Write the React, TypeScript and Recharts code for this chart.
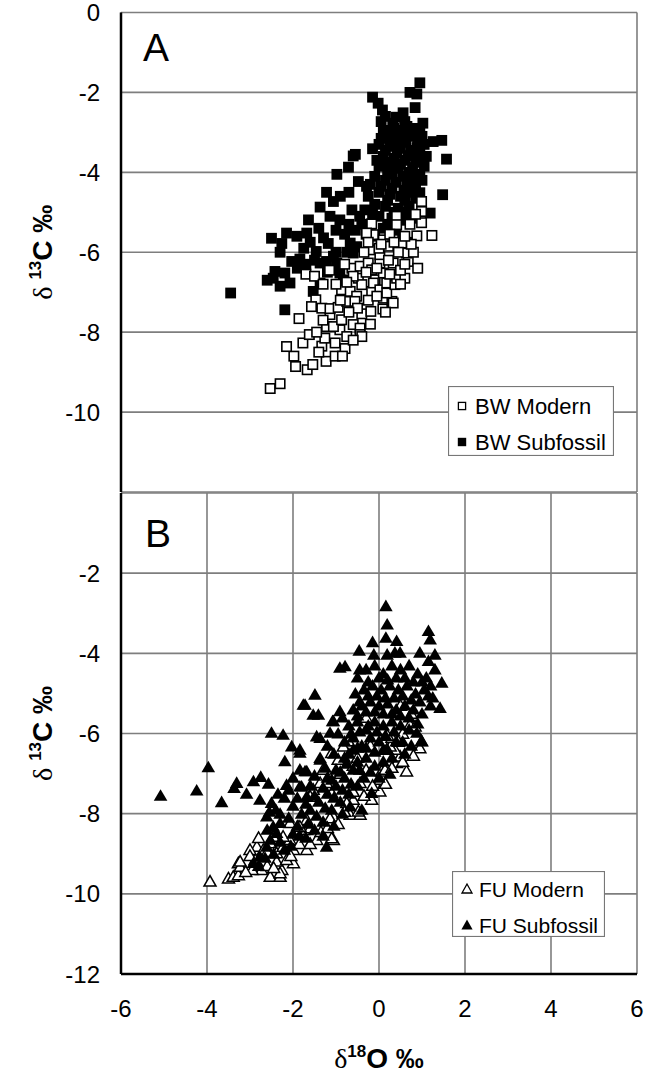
import React from 'react';
import { ScatterChart, Scatter, XAxis, YAxis, CartesianGrid, Legend, Label } from 'recharts';

// ---------- data (δ18O, δ13C) ----------
const bwModern: [number, number][] = [
  [-2.53, -9.41], [-2.3, -9.29], [-1.67, -8.94], [-1.54, -8.81], [-1.94, -8.86], [-1.98, -8.6], [-2.15, -8.36], [-1.86, -7.66], [-1.23, -8.73], [-1.02, -8.6],
  [-1.77, -8.27], [-1.62, -8.06], [-1.33, -8.35], [-1.26, -8.15], [-1.02, -8.27], [-0.79, -8.41], [-0.91, -7.94], [-1.22, -7.86], [-1.06, -7.86], [-0.75, -8.11],
  [-0.6, -7.81], [-0.44, -7.9], [-0.44, -8.06], [-0.4, -8.11], [-1.14, -7.56], [-0.87, -7.69], [-0.4, -7.54], [-0.19, -7.48], [0.09, -7.42],
  [-1.47, -7.19], [-1.57, -7.36], [-1.33, -7.4], [-1.14, -7.41], [-0.95, -7.38], [-1.7, -6.55], [-1.5, -6.6],
  [-0.87, -6.94], [-0.67, -6.98], [-0.52, -7.1], [-0.75, -7.23], [-0.56, -7.23],
  [-0.63, -6.4], [-0.44, -6.35], [-0.25, -6.27], [-0.17, -6.44], [-0.09, -6.69], [0.1, -6.52], [0.02, -6.27], [-0.21, -5.94], [0.02, -6.06],
  [-0.48, -6.65], [-0.4, -6.81], [-0.17, -6.98], [-0.13, -6.77], [0.02, -6.94], [0.1, -7.15], [0.18, -6.77], [0.3, -7.23], [0.18, -7.02], [0.37, -6.81],
  [0.41, -6.65], [0.6, -6.65], [0.33, -6.27], [0.68, -6.23], [0.88, -5.59], [1.23, -5.58], [0.53, -5.77], [0.64, -6.02], [-0.13, -5.56], [0.1, -5.69],
  [0.99, -4.73], [0.99, -4.98], [0.99, -5.26], [-0.17, -5.29], [-0.29, -5.52], [0.41, -5.1], [0.41, -5.31],
  [-0.25, -5.75], [0.0, -5.9], [0.22, -5.85], [0.25, -5.55], [0.33, -7.27],
  [-0.8, -6.3], [-0.6, -6.6], [-1.0, -6.8], [-1.15, -6.45], [-0.35, -6.0], [0.5, -6.45], [0.8, -6.0], [0.75, -5.8],
  [-0.3, -6.5], [-0.05, -6.4], [0.25, -6.55], [0.5, -6.8], [0.22, -6.2], [0.45, -6.0], [0.6, -5.6], [0.35, -5.75], [-0.5, -7.4], [-0.25, -7.2],
  [-0.05, -7.1], [-0.7, -7.5], [-0.9, -7.2], [-1.3, -7.7], [-1.45, -8.0], [-0.6, -8.2], [-0.85, -8.6], [-1.4, -8.5], [-0.2, -7.8], [0.15, -7.5],
  [-0.75, -6.75], [-1.3, -6.8], [0.05, -5.8], [0.6, -6.3], [0.9, -6.4], [0.72, -5.3], [0.85, -5.05],
];

const bwSubfossil: [number, number][] = [
  [0.95, -1.76], [0.72, -2.0], [0.88, -2.04], [-0.15, -2.12], [-0.02, -2.27], [0.08, -2.44], [0.84, -2.38], [0.56, -2.51],
  [0.05, -2.73], [0.32, -2.77], [0.6, -2.73], [1.02, -2.77],
  [0.1, -2.95], [0.35, -2.9], [0.55, -2.95], [0.8, -2.9], [0.95, -3.0], [0.2, -3.1], [0.45, -3.15], [0.7, -3.1], [0.9, -3.2], [1.05, -3.3],
  [1.26, -3.23], [1.46, -3.2], [1.57, -3.67], [-0.15, -3.41], [-0.6, -3.59], [-0.55, -3.55],
  [0.0, -3.3], [0.25, -3.35], [0.5, -3.4], [0.75, -3.45], [0.95, -3.5], [0.1, -3.6], [0.35, -3.65], [0.6, -3.7], [0.85, -3.75], [1.1, -3.6],
  [0.0, -3.85], [0.2, -3.95], [0.45, -3.9], [0.7, -4.0], [0.95, -4.05], [-0.1, -4.1], [0.15, -4.2], [0.4, -4.25], [0.65, -4.3], [0.85, -4.3],
  [-0.71, -3.87], [-0.98, -4.05], [-0.48, -4.23], [-0.29, -4.35], [-1.22, -4.5], [-1.06, -4.73], [-1.37, -4.87], [-1.64, -5.19],
  [1.48, -4.56], [-0.33, -4.94], [-0.63, -4.94], [-1.14, -5.1], [-0.91, -5.19],
  [0.0, -4.5], [0.25, -4.55], [0.5, -4.6], [0.75, -4.5], [0.95, -4.51], [-0.1, -4.8], [0.15, -4.85], [0.45, -4.9], [0.7, -4.85], [1.19, -5.02],
  [0.0, -5.1], [0.3, -5.15], [0.55, -5.2], [0.8, -5.15], [-0.2, -5.3], [0.1, -5.4], [0.4, -5.45],
  [-2.5, -5.65], [-2.26, -5.78], [-2.15, -5.52], [-1.91, -5.6], [-1.68, -5.52], [-1.29, -5.64], [-1.18, -5.78],
  [-1.46, -5.98], [-1.37, -6.27], [-1.22, -6.23], [-1.06, -6.1], [-0.98, -6.27], [-0.91, -6.52], [-0.83, -6.69],
  [-0.67, -5.77], [-0.52, -5.86], [-0.6, -6.02],
  [-2.03, -6.23], [-1.84, -6.17], [-2.42, -6.48], [-2.19, -6.52], [-2.07, -6.77], [-2.46, -6.65], [-3.45, -7.02], [-2.19, -7.44], [-1.53, -6.98], [-1.37, -6.77],
  [0.55, -5.6], [0.7, -5.75], [0.5, -5.9], [-1.75, -5.9], [-1.6, -5.75],
  [-0.4, -5.3], [-0.3, -5.55], [-0.1, -5.6], [-0.55, -5.45], [-0.8, -5.55], [-1.0, -5.45],
  [0.15, -2.6], [0.4, -2.62], [0.65, -2.85], [0.28, -3.0], [0.58, -3.05], [0.82, -3.05], [0.05, -3.15], [0.38, -3.28], [0.62, -3.25], [0.88, -3.38],
  [1.0, -3.1], [0.15, -3.45], [0.42, -3.52], [0.68, -3.58], [0.9, -3.62], [0.22, -3.75], [0.5, -3.8], [0.78, -3.88], [1.05, -3.85], [-0.05, -3.7],
  [0.3, -4.05], [0.55, -4.1], [0.8, -4.15], [1.0, -4.2], [-0.2, -4.3], [0.05, -4.35], [0.3, -4.4], [0.58, -4.45], [0.85, -4.65], [0.2, -4.7],
  [0.6, -4.7], [-0.25, -4.6], [0.35, -5.0], [0.62, -5.0], [-0.15, -5.05], [0.2, -5.3], [-0.45, -5.1], [-0.7, -5.3], [-1.4, -5.4], [-1.5, -6.2],
  [-1.2, -6.5], [-1.0, -6.0], [-0.75, -6.0], [-2.3, -6.0], [-2.6, -6.7], [-2.3, -6.85], [-1.9, -6.4], [-1.7, -6.3], [-0.9, -4.6], [-0.7, -4.5],
];

const fuModern: [number, number][] = [
  [-3.93, -9.69], [-3.5, -9.61], [-3.39, -9.57], [-3.27, -9.53], [-3.27, -9.23], [-3.23, -9.32], [-2.73, -9.4], [-2.53, -9.57], [-2.3, -9.57], [-2.26, -9.4], [-1.99, -9.23],
  [-2.84, -8.82], [-2.69, -8.9], [-2.53, -8.73], [-2.38, -8.98], [-2.23, -8.82], [-2.07, -8.65], [-1.99, -8.9], [-1.68, -8.9], [-1.45, -8.65], [-1.76, -8.4],
  [-1.88, -8.32], [-2.07, -8.23], [-1.68, -8.15], [-2.23, -8.57],
  [-1.06, -8.65], [-0.67, -8.02], [-0.44, -8.02], [-0.17, -7.65],
  [0.64, -6.94], [0.02, -7.44], [0.95, -6.36], [0.99, -6.19], [0.41, -6.73], [0.49, -6.57], [0.37, -6.4], [-1.1, -6.48], [-1.3, -6.9], [-0.83, -6.32], [-0.71, -6.19],
  [-0.44, -7.23], [-0.6, -7.65], [-0.75, -7.73], [-1.06, -8.07], [-1.1, -8.61], [-1.68, -8.4], [-0.48, -7.94], [0.02, -7.15], [0.06, -6.94], [0.14, -6.9],
  [0.18, -6.4], [0.26, -6.32], [0.72, -5.78], [0.84, -5.82], [-1.37, -7.23], [-1.53, -7.4], [-1.6, -7.57],
  [-1.22, -7.23], [-1.1, -7.48], [-1.14, -8.11], [-1.6, -8.36], [-1.84, -8.32], [-2.88, -9.15], [-3.23, -9.19], [-2.3, -9.48], [-2.38, -9.19], [-2.15, -9.15], [-2.46, -8.57],
  [-0.3, -5.6], [0.1, -5.9], [0.3, -6.1], [-0.2, -6.3], [0.55, -6.0], [0.75, -5.5], [0.5, -5.3],
  [-0.9, -7.0], [-0.6, -6.8], [-0.3, -6.9], [-2.8, -8.6], [-3.0, -8.9],
  [-2.6, -9.3], [-2.45, -9.35], [-2.05, -9.05], [-1.85, -8.75], [-1.6, -8.75], [-1.35, -8.45], [-1.2, -8.35], [-0.95, -8.25], [-0.8, -7.95], [-0.6, -7.45],
  [-0.35, -7.55], [-0.15, -7.3], [0.15, -7.25], [0.3, -6.85], [0.55, -6.7], [0.8, -6.55], [0.45, -6.2], [0.2, -6.05], [-0.5, -6.6], [-0.95, -6.65],
  [-2.95, -9.4], [-3.1, -9.45], [-3.0, -9.05], [-2.6, -8.95],
];

const fuSubfossil: [number, number][] = [
  [-5.08, -7.55], [-4.24, -7.42], [-3.97, -6.84], [-3.66, -7.71], [-3.31, -7.23], [-3.37, -7.36], [-3.08, -7.5], [-2.92, -7.19], [-2.75, -7.08], [-2.57, -7.25],
  [-2.77, -7.65], [-2.5, -5.98], [-2.23, -6.03], [-2.03, -6.32], [-1.84, -6.4], [-2.19, -6.69], [-2.15, -7.28], [-1.84, -7.32], [-2.5, -7.73], [-1.84, -6.9],
  [-1.68, -6.94], [-1.76, -5.28], [-1.53, -5.53], [-1.41, -5.53], [-1.08, -5.69], [-1.45, -6.07], [-1.37, -6.11], [-1.14, -5.98], [-1.37, -6.65],
  [0.16, -2.82], [0.19, -3.28], [0.16, -3.61], [0.41, -3.69], [1.15, -3.44], [1.19, -3.65], [-0.15, -3.72], [-0.46, -3.93], [-0.12, -4.03], [0.19, -4.03],
  [0.37, -3.98], [0.49, -3.98], [0.95, -3.98], [1.3, -4.03], [1.15, -4.19], [-0.91, -4.36], [-0.79, -4.32], [1.46, -4.73], [1.42, -5.36], [-1.49, -5.03],
  [-1.72, -5.28], [-0.91, -5.44], [-1.06, -5.69], [0.88, -5.98], [0.99, -6.19], [-1.72, -6.94], [-1.84, -6.48], [-1.37, -6.61], [-1.8, -7.32], [-1.68, -7.57],
  [-0.4, -7.9], [-0.17, -7.48], [-0.67, -7.82],
  [-2.61, -8.07], [-2.46, -8.32], [-2.38, -8.48], [-2.3, -8.23], [-2.53, -8.65], [-2.61, -8.82], [-2.77, -9.07], [-2.92, -9.23], [-1.22, -8.82],
  [-2.2, -7.6], [-2.0, -7.8], [-1.8, -8.0], [-1.6, -7.9], [-1.4, -7.7], [-1.2, -7.5], [-1.0, -7.3], [-0.8, -7.1], [-0.6, -6.9], [-2.1, -8.1],
  [-1.9, -8.3], [-1.7, -8.6], [-1.5, -8.4], [-1.3, -8.2], [-1.1, -7.9], [-0.9, -7.7], [-0.7, -7.5], [-0.5, -7.3], [-2.4, -7.9], [-2.2, -8.9],
  [-2.0, -8.5], [-2.6, -8.4], [-1.0, -6.9], [-0.8, -6.6], [-0.6, -6.4], [-1.2, -7.1], [-1.6, -7.3], [-2.0, -7.1],
  [-0.5, -4.6], [-0.3, -4.4], [-0.1, -4.3], [0.1, -4.5], [0.3, -4.3], [0.5, -4.4], [0.7, -4.3], [0.9, -4.5], [1.1, -4.6], [1.3, -4.4],
  [-0.55, -5.0], [-0.35, -4.9], [-0.15, -4.8], [0.05, -4.9], [0.25, -4.8], [0.45, -4.9], [0.65, -4.8], [0.85, -5.0], [1.05, -4.9], [1.25, -5.1],
  [-0.6, -5.4], [-0.4, -5.3], [-0.2, -5.2], [0.0, -5.3], [0.2, -5.25], [0.4, -5.4], [0.6, -5.3], [0.8, -5.4], [1.0, -5.5], [1.2, -5.3],
  [-0.7, -5.8], [-0.5, -5.7], [-0.3, -5.9], [-0.1, -5.7], [0.1, -5.8], [0.3, -5.7], [0.5, -5.8], [0.7, -5.9],
  [-0.8, -6.2], [-0.6, -6.1], [-0.4, -6.3], [-0.2, -6.1], [0.0, -6.2], [0.2, -6.4], [0.4, -6.2], [0.6, -6.5],
  [-0.5, -6.7], [-0.3, -6.6], [-0.1, -6.8], [0.1, -6.7], [0.25, -7.0], [-0.35, -7.1],
  [-1.2, -6.3], [-0.95, -6.0], [-0.85, -5.6],
  [-0.45, -4.4], [-0.25, -4.7], [0.0, -4.6], [0.2, -4.65], [0.4, -4.6], [0.6, -4.6], [0.8, -4.7], [1.0, -4.7], [1.2, -4.8], [-0.45, -5.2],
  [-0.25, -5.05], [-0.05, -5.05], [0.15, -5.1], [0.35, -5.1], [0.55, -5.05], [0.75, -5.15], [0.95, -5.2], [1.15, -5.05], [-0.5, -5.55], [-0.3, -5.45],
  [-0.1, -5.45], [0.1, -5.5], [0.3, -5.5], [0.5, -5.55], [0.7, -5.6], [0.9, -5.75], [-0.65, -6.0], [-0.45, -5.95], [-0.25, -5.8], [-0.05, -5.95],
  [0.15, -6.05], [0.35, -5.95], [0.55, -6.2], [0.75, -6.3], [-0.7, -6.5], [-0.5, -6.35], [-0.3, -6.35], [-0.1, -6.45], [0.1, -6.4], [0.3, -6.6],
  [-0.2, -6.95], [0.0, -7.1], [-0.45, -6.9], [-0.65, -7.25], [-0.85, -7.4], [-1.05, -7.6], [-1.25, -7.85], [-1.45, -8.05], [-1.65, -8.25], [-1.85, -8.55],
  [-2.05, -8.8], [-2.3, -8.7], [-2.45, -9.0], [-2.65, -9.1], [-2.8, -9.3], [-2.1, -7.4], [-1.9, -7.6], [-1.7, -7.75], [-1.5, -7.55], [-1.3, -7.35],
  [-1.1, -7.15], [-0.9, -6.95], [-0.75, -6.75], [-1.05, -6.5], [-1.25, -6.85], [-1.5, -7.05], [-2.35, -7.5], [-2.55, -7.95], [-2.3, -8.0], [-1.05, -8.3],
  [-1.3, -8.55], [-0.85, -8.0],
];

const xTicks = [-6, -4, -2, 0, 2, 4, 6];
const yTicksA = [0, -2, -4, -6, -8, -10];
const yTicksB = [-2, -4, -6, -8, -10, -12];
const legendOrderA = ['BW Modern', 'BW Subfossil'];
const legendOrderB = ['FU Modern', 'FU Subfossil'];

const toPoints = (arr: [number, number][]) => arr.map(([x, y]) => ({ x, y }));

// ---------- styles ----------
const GRID = '#7e7e7e';
const SANS = '"Liberation Sans", Arial, sans-serif';
const SERIF = '"Liberation Serif", "Times New Roman", serif';
const AXIS_LINE = { stroke: '#000', strokeWidth: 2.5 };
const TICK_STYLE = { fill: '#000', fontSize: 24, fontFamily: SANS };

// ---------- markers ----------
const OpenSquare = (p: any) => (
  <rect x={p.cx - 4.7} y={p.cy - 4.7} width={9.4} height={9.4} fill="#fff" stroke="#000" strokeWidth={1.6} />
);
const FilledSquare = (p: any) => (
  <rect x={p.cx - 5.4} y={p.cy - 5.4} width={10.8} height={10.8} fill="#000" />
);
const OpenTri = (p: any) => (
  <polygon
    points={`${p.cx},${p.cy - 5.8} ${p.cx - 6},${p.cy + 4.7} ${p.cx + 6},${p.cy + 4.7}`}
    fill="#fff" stroke="#000" strokeWidth={1.5} strokeLinejoin="miter"
  />
);
const FilledTri = (p: any) => (
  <polygon
    points={`${p.cx},${p.cy - 6.5} ${p.cx - 6.8},${p.cy + 5.1} ${p.cx + 6.8},${p.cy + 5.1}`}
    fill="#000"
  />
);

// ---------- titles ----------
const YTitle = (props: any) => {
  const vb = props.viewBox || { x: 0, y: 0, width: 0, height: 0 };
  const bx = vb.x + 52;
  const cy = vb.y + vb.height / 2;
  return (
    <text x={bx} y={cy} transform={`rotate(-90 ${bx} ${cy})`} textAnchor="middle" fill="#000">
      <tspan fontFamily={SERIF} fontSize={28}>δ </tspan>
      <tspan fontFamily={SANS} fontSize={17} fontWeight="bold" dy={-11}>13</tspan>
      <tspan fontFamily={SANS} fontSize={28} fontWeight="bold" dy={11}>C ‰</tspan>
    </text>
  );
};

const XTitle = (props: any) => {
  const vb = props.viewBox || { x: 0, y: 0, width: 0, height: 0 };
  const cx = vb.x + vb.width / 2;
  const by = vb.y + 94;
  return (
    <text x={cx} y={by} textAnchor="middle" fill="#000">
      <tspan fontFamily={SERIF} fontSize={28}>δ</tspan>
      <tspan fontFamily={SANS} fontSize={17} fontWeight="bold" dy={-11}>18</tspan>
      <tspan fontFamily={SANS} fontSize={28} fontWeight="bold" dy={11}>O ‰</tspan>
    </text>
  );
};

// ---------- legend ----------
const LegendBox = ({ payload, order, w, h, rows, markX, textX, fontSize, kind }: any) => {
  const items = order
    .map((name: string) => (payload || []).find((e: any) => e.value === name))
    .filter(Boolean);
  return (
    <svg width={w} height={h} style={{ display: 'block' }}>
      <rect x={0.5} y={0.5} width={w - 1} height={h - 1} fill="#fff" stroke="#777" strokeWidth={1.2} />
      {items.map((e: any, i: number) => {
        const cy = rows[i];
        const open = i === 0;
        let marker;
        if (kind === 'square') {
          marker = open ? (
            <rect x={markX - 3.6} y={cy - 3.6} width={7.2} height={7.2} fill="#fff" stroke="#000" strokeWidth={1.3} />
          ) : (
            <rect x={markX - 4.2} y={cy - 4.2} width={8.4} height={8.4} fill="#000" />
          );
        } else {
          marker = open ? (
            <polygon points={`${markX},${cy - 5} ${markX - 5},${cy + 4} ${markX + 5},${cy + 4}`} fill="#fff" stroke="#000" strokeWidth={1.3} />
          ) : (
            <polygon points={`${markX},${cy - 5.6} ${markX - 5.6},${cy + 4.4} ${markX + 5.6},${cy + 4.4}`} fill="#000" />
          );
        }
        return (
          <g key={e.value}>
            {marker}
            <text x={textX} y={cy} dy="0.36em" fontFamily={SANS} fontSize={fontSize} fill="#000">
              {e.value}
            </text>
          </g>
        );
      })}
    </svg>
  );
};

export default function App() {
  return (
    <div style={{ position: 'absolute', left: 0, top: 0, width: 661, height: 1073, background: '#fff' }}>
      {/* Panel A */}
      <div style={{ position: 'absolute', left: 0, top: 0 }}>
        <ScatterChart width={661} height={500} margin={{ top: 12.5, right: 24, bottom: 8, left: 0 }}>
          <CartesianGrid stroke={GRID} strokeWidth={1.6} />
          <XAxis
            type="number" dataKey="x" domain={[-6, 6]} ticks={xTicks} interval={0}
            tick={false} tickLine={false} height={0} axisLine={AXIS_LINE}
          />
          <YAxis
            type="number" dataKey="y" domain={[-12, 0]} ticks={yTicksA} interval={0}
            width={121} tickLine={false} tickSize={0} tickMargin={21} axisLine={AXIS_LINE} tick={TICK_STYLE}
          >
            <Label content={YTitle} />
          </YAxis>
          <Legend
            layout="vertical" align="center" verticalAlign="middle"
            wrapperStyle={{ left: 448, top: 386, width: 166, height: 70, lineHeight: 0 }}
            content={(p: any) => (
              <LegendBox payload={p.payload} order={legendOrderA} w={166} h={70} rows={[20, 56]} markX={14} textX={27} fontSize={22} kind="square" />
            )}
          />
          <Scatter name="BW Subfossil" data={toPoints(bwSubfossil)} shape={FilledSquare} fill="#000" isAnimationActive={false} />
          <Scatter name="BW Modern" data={toPoints(bwModern)} shape={OpenSquare} fill="#fff" isAnimationActive={false} />
        </ScatterChart>
      </div>

      {/* Panel B */}
      <div style={{ position: 'absolute', left: 0, top: 480 }}>
        <ScatterChart width={661} height={593} margin={{ top: 13, right: 24, bottom: 0, left: 0 }}>
          <CartesianGrid stroke={GRID} strokeWidth={1.6} />
          <XAxis
            type="number" dataKey="x" domain={[-6, 6]} ticks={xTicks} interval={0}
            height={99} tickLine={false} tickSize={0} tickMargin={26} axisLine={AXIS_LINE} tick={TICK_STYLE}
          >
            <Label content={XTitle} />
          </XAxis>
          <YAxis
            type="number" dataKey="y" domain={[-12, 0]} ticks={yTicksB} interval={0}
            width={121} tickLine={false} tickSize={0} tickMargin={21} axisLine={AXIS_LINE} tick={TICK_STYLE}
          >
            <Label content={YTitle} />
          </YAxis>
          <Legend
            layout="vertical" align="center" verticalAlign="middle"
            wrapperStyle={{ left: 452, top: 391, width: 153, height: 66, lineHeight: 0 }}
            content={(p: any) => (
              <LegendBox payload={p.payload} order={legendOrderB} w={153} h={66} rows={[18, 54]} markX={15} textX={27} fontSize={21} kind="triangle" />
            )}
          />
          <Scatter name="FU Modern" data={toPoints(fuModern)} shape={OpenTri} fill="#fff" isAnimationActive={false} />
          <Scatter name="FU Subfossil" data={toPoints(fuSubfossil)} shape={FilledTri} fill="#000" isAnimationActive={false} />
        </ScatterChart>
      </div>

      {/* Panel letters */}
      <svg width={661} height={1073} style={{ position: 'absolute', left: 0, top: 0, pointerEvents: 'none' }}>
        <text x={143} y={61} fontFamily={SANS} fontSize={39} fill="#000">A</text>
        <text x={145} y={547} fontFamily={SANS} fontSize={39} fill="#000">B</text>
      </svg>
    </div>
  );
}
